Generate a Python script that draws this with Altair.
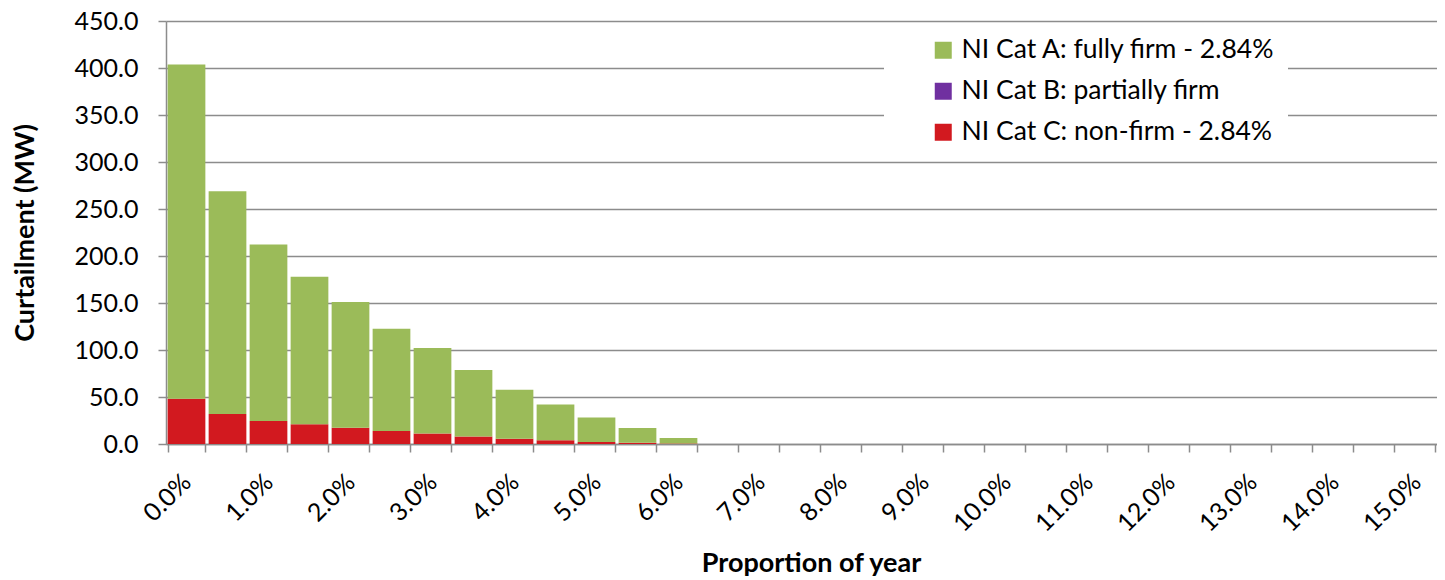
import altair as alt
import pandas as pd

# x categories: proportion of year, 0.5% steps
categories = [f"{v/2:.1f}%" for v in range(0, 31)]

# Series values (MW)
cat_a_total = [403.7, 269.0, 212.3, 177.8, 151.0, 122.7, 102.0, 78.8, 57.7, 41.9, 28.2, 16.9, 6.3]
cat_c_vals = [48.2, 32.0, 24.6, 21.1, 17.2, 13.7, 11.3, 8.1, 5.6, 3.9, 2.1, 1.3, 0.5]

series_names = [
    "NI Cat A: fully firm - 2.84%",
    "NI Cat B: partially firm",
    "NI Cat C: non-firm - 2.84%",
]
series_colors = ["#9BBB59", "#7030A0", "#D2191F"]

n = len(categories)
cat_c = cat_c_vals + [0.0] * (n - len(cat_c_vals))
cat_a = [t - c for t, c in zip(cat_a_total, cat_c_vals)] + [0.0] * (n - len(cat_a_total))
cat_b = [0.0] * n

rows = []
for i, cat in enumerate(categories):
    rows.append({"x": cat, "series": series_names[2], "value": cat_c[i], "ord": 0})
    rows.append({"x": cat, "series": series_names[1], "value": cat_b[i], "ord": 1})
    rows.append({"x": cat, "series": series_names[0], "value": cat_a[i], "ord": 2})
df = pd.DataFrame(rows)

GRID = "#8C8C8C"
FONT = "Lato"

chart = (
    alt.Chart(df)
    .mark_bar(strokeWidth=0)
    .encode(
        x=alt.X(
            "x:N",
            sort=categories,
            scale=alt.Scale(paddingInner=0.08, paddingOuter=0.04),
            axis=alt.Axis(
                title="Proportion of year",
                titleFont=FONT,
                titleFontWeight="bold",
                titleFontSize=27,
                titleColor="black",
                titlePadding=14,
                titleX=645,
                tickBand="extent",
                labelAngle=-45,
                labelAlign="right",
                labelBaseline="middle",
                labelExpr="slice(datum.label, -3) == '.5%' ? '' : datum.label",
                labelFont=FONT,
                labelFontSize=25,
                labelColor="black",
                labelPadding=26,
                labelOverlap=False,
                tickSize=8,
                tickColor=GRID,
                tickWidth=1.5,
                domainColor=GRID,
                domainWidth=1.5,
                grid=False,
            ),
        ),
        y=alt.Y(
            "value:Q",
            stack="zero",
            scale=alt.Scale(domain=[0, 450], nice=False),
            axis=alt.Axis(
                title="Curtailment (MW)",
                titleFont=FONT,
                titleFontWeight="bold",
                titleFontSize=27,
                titleColor="black",
                titlePadding=35,
                values=list(range(0, 451, 50)),
                format=".1f",
                labelFont=FONT,
                labelFontSize=25,
                labelColor="black",
                labelPadding=20,
                tickSize=8,
                tickColor=GRID,
                tickWidth=1.5,
                domainColor=GRID,
                domainWidth=1.5,
                grid=True,
                gridColor=GRID,
                gridWidth=1.5,
            ),
        ),
        color=alt.Color(
            "series:N",
            scale=alt.Scale(domain=series_names, range=series_colors),
            legend=alt.Legend(
                title=None,
                orient="none",
                legendX=718,
                legendY=3,
                fillColor="white",
                padding=13,
                symbolOffset=33,
                symbolType="square",
                symbolSize=289,
                symbolStrokeWidth=0,
                labelFont=FONT,
                labelFontSize=26.5,
                labelColor="black",
                labelOffset=5,
                labelLimit=600,
                rowPadding=14,
            ),
        ),
        order=alt.Order("ord:Q", sort="ascending"),
    )
    .properties(
        width=1271,
        height=423,
        autosize=alt.AutoSizeParams(type="none"),
        padding={"left": 158, "top": 13, "right": 0, "bottom": 136},
    )
    .configure_view(stroke=None)
)

chart.save("out.html", embed_options={"renderer": "svg", "actions": False})
